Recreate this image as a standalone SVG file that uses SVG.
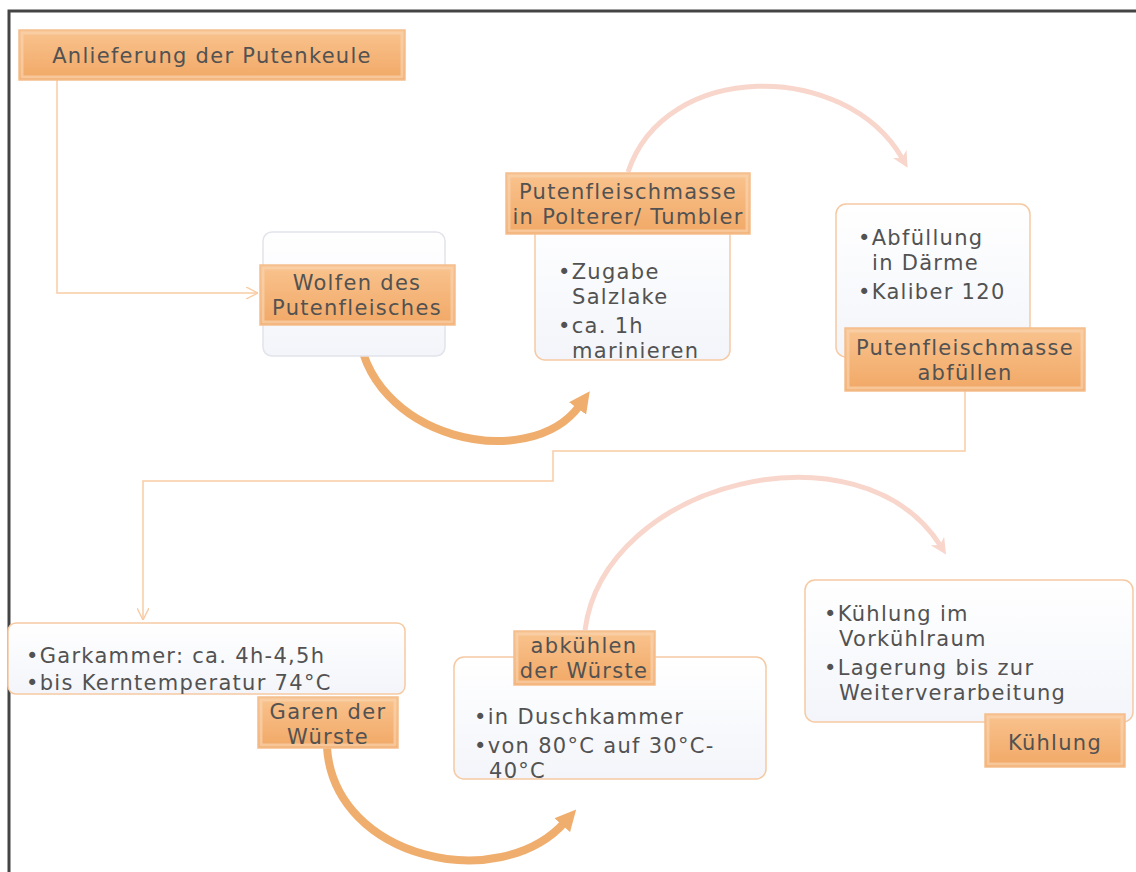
<svg xmlns="http://www.w3.org/2000/svg" width="1136" height="872" viewBox="0 0 1136 872">
<style>
text{font-family:"DejaVu Sans","Liberation Sans",sans-serif;fill:#525252;font-size:21px;letter-spacing:1.3px}
.lbl{text-anchor:middle}
.lab{fill:url(#og);stroke:#F4BE8E;stroke-width:1.5}
.bev{fill:none;stroke:#FAD3AE;stroke-width:3;opacity:.7}
.card{fill:url(#wg);stroke:#F6C9A2;stroke-width:1.5}
.thin{fill:none;stroke:#F9CBA4;stroke-width:1.5}
.thick{fill:none;stroke:#F0AE6E;stroke-width:8}
.pink{fill:none;stroke:#F8D6CC;stroke-width:5}
</style>
<defs>
<linearGradient id="og" x1="0" y1="0" x2="0" y2="1">
<stop offset="0" stop-color="#F9C38E"/><stop offset="1" stop-color="#F1A866"/>
</linearGradient>
<linearGradient id="wg" x1="0" y1="0" x2="0" y2="1">
<stop offset="0" stop-color="#FFFFFF"/><stop offset="1" stop-color="#F3F5FA"/>
</linearGradient>
<marker id="va" viewBox="0 0 10 10" refX="10" refY="5" markerWidth="12" markerHeight="12" markerUnits="userSpaceOnUse" orient="auto">
<path d="M0,0 L10,5 L0,10" fill="none" stroke="#F9CBA4" stroke-width="1.2"/>
</marker>
<marker id="ta" viewBox="0 0 10 10" refX="2" refY="5" markerWidth="21" markerHeight="21" markerUnits="userSpaceOnUse" orient="auto">
<path d="M0,0 L10,5 L0,10 z" fill="#F0AE6E"/>
</marker>
<marker id="pa" viewBox="0 0 10 10" refX="3" refY="5" markerWidth="16" markerHeight="16" markerUnits="userSpaceOnUse" orient="auto">
<path d="M0,0 L10,5 L0,10 L3,5 z" fill="#F8D6CC"/>
</marker>
</defs>
<rect x="0" y="0" width="1136" height="872" fill="#FFFFFF"/>
<rect x="9" y="11" width="1160" height="900" fill="none" stroke="#444" stroke-width="3"/>

<g id="connectors">
<path class="thin" d="M57,80 V293 H258" marker-end="url(#va)"/>
<path class="thin" d="M965,391 V451 H553 V481 H143 V620" marker-end="url(#va)"/>
<path class="thick" d="M358,325 C365,440 530,475 580,405" marker-end="url(#ta)"/>
<path class="thick" d="M327,748 C335,860 500,895 565,822" marker-end="url(#ta)"/>
<path class="pink" d="M628,172 C665,60 845,60 902,158" marker-end="url(#pa)"/>
<path class="pink" d="M585,630 C605,480 860,420 940,545" marker-end="url(#pa)"/>
</g>

<g id="n1">
<rect class="lab" x="19" y="30" width="386" height="50"/>
<rect class="bev" x="22" y="33" width="380" height="44"/>
<text class="lbl" x="212" y="63">Anlieferung der Putenkeule</text>
</g>

<g id="n2">
<rect x="263" y="232" width="182" height="124" rx="9" fill="url(#wg)" stroke="#E2E4EA" stroke-width="1.5"/>
<rect class="lab" x="260" y="265" width="195" height="60"/>
<rect class="bev" x="263" y="268" width="189" height="54"/>
<text class="lbl" x="357" y="290">Wolfen des</text>
<text class="lbl" x="357" y="315">Putenfleisches</text>
</g>

<g id="n3">
<rect class="card" x="535" y="210" width="195" height="150" rx="10"/>
<rect class="lab" x="506" y="173" width="244" height="61"/>
<rect class="bev" x="509" y="176" width="238" height="55"/>
<text class="lbl" x="628" y="199">Putenfleischmasse</text>
<text class="lbl" x="628" y="224">in Polterer/ Tumbler</text>
<text x="558" y="279">•Zugabe</text>
<text x="572" y="304">Salzlake</text>
<text x="558" y="333">•ca. 1h</text>
<text x="572" y="358">marinieren</text>
</g>

<g id="n4">
<rect class="card" x="836" y="204" width="194" height="153" rx="10"/>
<rect class="lab" x="845" y="328" width="240" height="63"/>
<rect class="bev" x="848" y="331" width="234" height="57"/>
<text class="lbl" x="965" y="355">Putenfleischmasse</text>
<text class="lbl" x="965" y="380">abfüllen</text>
<text x="858" y="245">•Abfüllung</text>
<text x="872" y="270">in Därme</text>
<text x="858" y="299">•Kaliber 120</text>
</g>

<g id="n5">
<rect class="card" x="8" y="623" width="397" height="71" rx="8"/>
<text x="26" y="663">•Garkammer: ca. 4h-4,5h</text>
<text x="26" y="690">•bis Kerntemperatur 74°C</text>
<rect class="lab" x="258" y="697" width="140" height="51"/>
<rect class="bev" x="261" y="700" width="134" height="45"/>
<text class="lbl" x="328" y="719">Garen der</text>
<text class="lbl" x="328" y="744">Würste</text>
</g>

<g id="n6">
<rect class="card" x="454" y="657" width="312" height="122" rx="10"/>
<rect class="lab" x="514" y="631" width="141" height="54"/>
<rect class="bev" x="517" y="634" width="135" height="48"/>
<text class="lbl" x="584" y="653">abkühlen</text>
<text class="lbl" x="584" y="678">der Würste</text>
<text x="474" y="724">•in Duschkammer</text>
<text x="474" y="753">•von 80°C auf 30°C-</text>
<text x="489" y="778">40°C</text>
</g>

<g id="n7">
<rect class="card" x="805" y="580" width="328" height="142" rx="10"/>
<text x="824" y="621">•Kühlung im</text>
<text x="839" y="646">Vorkühlraum</text>
<text x="824" y="675">•Lagerung bis zur</text>
<text x="839" y="700">Weiterverarbeitung</text>
<rect class="lab" x="985" y="714" width="140" height="53"/>
<rect class="bev" x="988" y="717" width="134" height="47"/>
<text class="lbl" x="1055" y="750">Kühlung</text>
</g>
</svg>
